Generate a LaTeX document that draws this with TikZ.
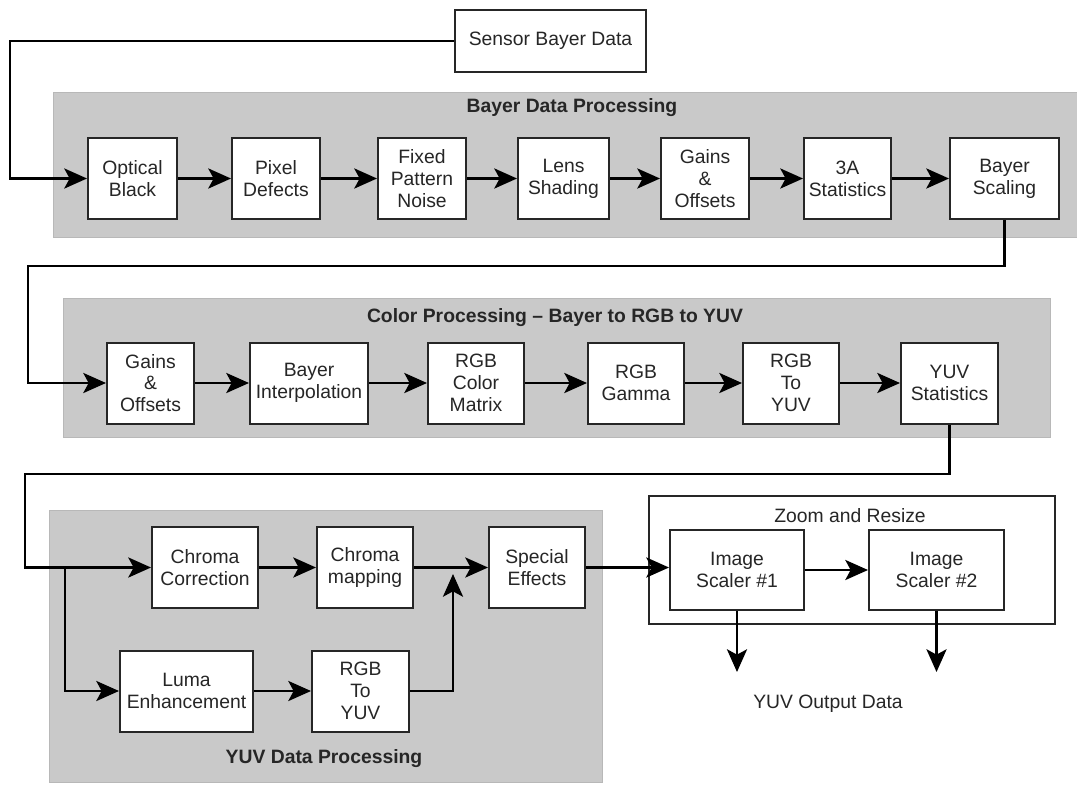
\documentclass[tikz,border=0pt]{standalone}
\usepackage{fontspec}
\setmainfont{Liberation Sans}
\usetikzlibrary{arrows.meta}

\begin{document}
\begin{tikzpicture}[x=0.75pt, y=-0.75pt, >={Stealth[length=17pt, width=15pt, inset=4pt]},
	every node/.style={font=\fontsize{14.5}{16.3}\selectfont, text=black!85},
	bw/.style={minimum width=#1*0.75pt},
	bh/.style={minimum height=#1*0.75pt},
	blk/.style={
		% The shape:
		rectangle, align=center, inner sep=1pt,
		% The size:
		bw=88, bh=81,
		% The border
		line width=1.5pt, draw=black!85,
		% The filling
		fill=white},
	panel/.style={fill=black!21, draw=black!28, line width=0.6pt},
	link/.style={->, line width=2.2pt, draw=black},
	title/.style={font=\fontsize{14.5}{16.3}\selectfont\bfseries}]
    \useasboundingbox (0,0) rectangle (1077,785);
    % grey stages
    \draw[panel] (53,92) rectangle (1077,237);
    \draw[panel] (63,298) rectangle (1050,437);
    \draw[panel] (49,510) rectangle (602,782);
    \draw[line width=1.5pt, draw=black!85, fill=white] (649,496) rectangle (1055,624);
    \node[title] (tbayer) at (572,108) {Bayer Data Processing};
    \node[title] (tcolor) at (555,318) {Color Processing \textendash{} Bayer to RGB to YUV};
    \node[title] (tyuv) at (324,759) {YUV Data Processing};
    \node (tzoom) at (850,516) {Zoom and Resize};
    \node (tout) at (828,704) {YUV Output Data};
    % input
    \node[blk, bw=191, bh=62] (sensor) at (550.5,41) {Sensor Bayer Data};
    % bayer row
    \node[blk, bw=89] (ob) at (132.5,178.5) {Optical\\Black};
    \node[blk] (pd) at (276,178.5) {Pixel\\Defects};
    \node[blk] (fpn) at (422,178.5) {Fixed\\Pattern\\Noise};
    \node[blk, bw=91] (ls) at (563.5,178.5) {Lens\\Shading};
    \node[blk] (go1) at (705,178.5) {Gains\\\&\\Offsets};
    \node[blk, bw=87] (st) at (847.5,178.5) {3A\\Statistics};
    \node[blk, bw=109] (bs) at (1004.5,178.5) {Bayer\\Scaling};
    % color row
    \node[blk, bw=87] (go2) at (150.5,383) {Gains\\\&\\Offsets};
    \node[blk, bw=118] (bi) at (309,383) {Bayer\\Interpolation};
    \node[blk, bw=96] (ccm) at (476,383) {RGB\\Color\\Matrix};
    \node[blk, bw=96] (gam) at (636,383) {RGB\\Gamma};
    \node[blk, bw=96] (r2y) at (791,383) {RGB\\To\\YUV};
    \node[blk, bw=97] (ys) at (949.5,383) {YUV\\Statistics};
    % yuv rows
    \node[blk, bw=106] (cc) at (205,567.5) {Chroma\\Correction};
    \node[blk, bw=96] (cm) at (365,567.5) {Chroma\\mapping};
    \node[blk, bw=96] (se) at (537,567.5) {Special\\Effects};
    \node[blk, bw=133] (le) at (186.5,691) {Luma\\Enhancement};
    \node[blk, bw=97] (r2y2) at (360.5,691) {RGB\\To\\YUV};
    % zoom and resize
    \node[blk, bw=134, bh=80] (is1) at (737,570) {Image\\Scaler \#1};
    \node[blk, bw=135, bh=80] (is2) at (936.5,570) {Image\\Scaler \#2};
    % connectors
    \coordinate (c1) at (10,41);
    \coordinate (c2) at (28,266);
    \coordinate (c3) at (25,474);
    \coordinate (br) at (65,567.5);
    \coordinate (mg) at (453,574);
    \coordinate (o1) at (737,672);
    \draw[link] (sensor.west) -- (c1) |- (ob.west);
    \foreach \a/\b in {ob/pd, pd/fpn, fpn/ls, ls/go1, go1/st, st/bs,
                       go2/bi, bi/ccm, ccm/gam, gam/r2y, r2y/ys,
                       cc/cm, cm/se, le/r2y2, is1/is2}
        \draw[link] (\a) -- (\b);
    \draw[link] (bs.south) |- (c2) |- (go2.west);
    \draw[link] (ys.south) |- (c3) |- (cc.west);
    \draw[link] (br) |- (le.west);
    \draw[link] (r2y2.east) -| (mg);
    \draw[link] (se.east) -- (se.east -| is1.west);
    \draw[link] (is1.south) -- (o1);
    \draw[link] (is2.south) -- (is2.south |- o1);
\end{tikzpicture}
\end{document}
